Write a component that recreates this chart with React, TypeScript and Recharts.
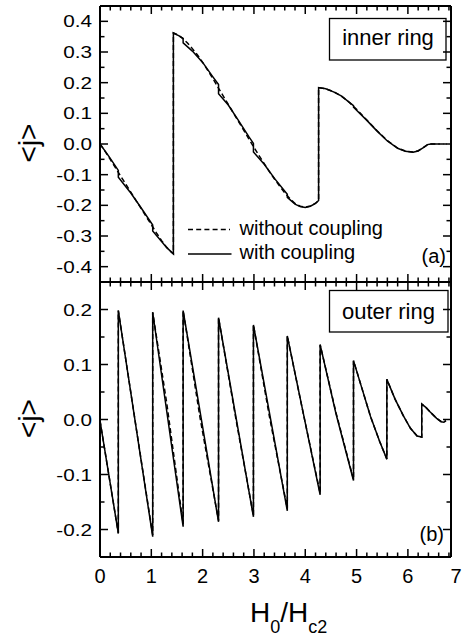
import React from 'react';
import { LineChart, Line, XAxis, YAxis } from 'recharts';

type Pt = [number, number];

// inner ring <j> vs H0/Hc2
const innerWithout: Pt[] = [
  [0, 0], [0.1, -0.024], [0.2, -0.05], [0.3, -0.077], [0.4, -0.104], [0.5, -0.13], [0.6, -0.157],
  [0.7, -0.184], [0.8, -0.21], [0.9, -0.237], [1.0, -0.263], [1.1, -0.29], [1.2, -0.315], [1.3, -0.337],
  [1.38, -0.351], [1.43, -0.358],
  [1.43, 0.362], [1.5, 0.357], [1.6, 0.346], [1.7, 0.33], [1.8, 0.311], [1.9, 0.29], [2.0, 0.266],
  [2.1, 0.24], [2.2, 0.213], [2.3, 0.185], [2.4, 0.157], [2.5, 0.129], [2.6, 0.101], [2.7, 0.073],
  [2.8, 0.045], [2.9, 0.017], [3.0, -0.011], [3.1, -0.038], [3.2, -0.064], [3.3, -0.09], [3.4, -0.114],
  [3.5, -0.137], [3.6, -0.159], [3.7, -0.178], [3.8, -0.194], [3.9, -0.203], [4.0, -0.206], [4.1, -0.202],
  [4.2, -0.193], [4.26, -0.184],
  [4.26, 0.184], [4.4, 0.18], [4.55, 0.171], [4.7, 0.157], [4.85, 0.137], [5.0, 0.113], [5.2, 0.078],
  [5.4, 0.043], [5.6, 0.011], [5.8, -0.013], [5.95, -0.023], [6.1, -0.026], [6.2, -0.022], [6.3, -0.012],
  [6.38, -0.003], [6.45, 0], [6.76, 0],
];

const innerWith: Pt[] = [
  [0, 0], [0.18, -0.042], [0.357, -0.086], [0.357, -0.108], [0.6, -0.16], [0.8, -0.208], [1.027, -0.264],
  [1.027, -0.284], [1.2, -0.318], [1.3, -0.338], [1.43, -0.358],
  [1.43, 0.362], [1.55, 0.352], [1.62, 0.344], [1.62, 0.33], [1.8, 0.303], [2.0, 0.266], [2.2, 0.219],
  [2.31, 0.194], [2.31, 0.164], [2.5, 0.127], [2.7, 0.076], [2.9, 0.024], [2.99, 0.002], [2.99, -0.026],
  [3.2, -0.066], [3.4, -0.112], [3.65, -0.164], [3.65, -0.174], [3.8, -0.196], [3.9, -0.204], [4.0, -0.207],
  [4.1, -0.203], [4.2, -0.194], [4.26, -0.184],
  [4.26, 0.184], [4.4, 0.18], [4.55, 0.17], [4.7, 0.157], [4.94, 0.125], [4.94, 0.12], [5.2, 0.077],
  [5.4, 0.042], [5.6, 0.01], [5.8, -0.014], [5.95, -0.024], [6.1, -0.027], [6.2, -0.023], [6.3, -0.012],
  [6.38, -0.002], [6.45, 0], [6.62, 0],
];

// outer ring <j> vs H0/Hc2
const outerWithout: Pt[] = [
  [0, -0.002], [0.357, -0.207], [0.357, 0.198], [0.7, -0.012], [1.027, -0.21], [1.027, 0.195], [1.3, 0.03],
  [1.62, -0.19], [1.62, 0.198], [1.95, 0.003], [2.31, -0.184], [2.31, 0.185], [2.65, 0.0], [2.99, -0.175],
  [2.99, 0.172], [3.3, 0.006], [3.65, -0.162], [3.65, 0.152], [3.95, 0.016], [4.29, -0.134], [4.29, 0.136],
  [4.6, 0.012], [4.94, -0.109], [4.94, 0.107], [5.1, 0.058], [5.27, 0.006], [5.45, -0.04], [5.59, -0.072],
  [5.59, 0.073], [5.75, 0.037], [5.91, 0.007], [6.05, -0.016], [6.18, -0.03], [6.27, -0.032], [6.27, 0.028],
  [6.35, 0.022], [6.43, 0.014], [6.56, 0.002], [6.65, -0.004], [6.7, -0.005], [6.74, -0.002],
];

const outerWith: Pt[] = [
  [0, -0.002], [0.357, -0.207], [0.357, 0.198], [1.027, -0.213], [1.027, 0.195], [1.62, -0.195],
  [1.62, 0.198], [2.31, -0.186], [2.31, 0.185], [2.99, -0.177], [2.99, 0.172], [3.65, -0.166],
  [3.65, 0.152], [4.29, -0.137], [4.29, 0.136], [4.6, 0.01], [4.94, -0.111], [4.94, 0.107], [5.1, 0.058],
  [5.27, 0.006], [5.45, -0.04], [5.59, -0.072], [5.59, 0.073], [5.75, 0.037], [5.91, 0.007], [6.05, -0.016],
  [6.18, -0.03], [6.27, -0.032], [6.27, 0.028], [6.35, 0.022], [6.43, 0.014], [6.56, 0.002], [6.65, -0.004],
  [6.7, -0.005], [6.74, -0.002],
];

const xTicks = [
  0, 0.2, 0.4, 0.6, 0.8, 1, 1.2, 1.4, 1.6, 1.8, 2, 2.2, 2.4, 2.6, 2.8, 3, 3.2, 3.4, 3.6, 3.8,
  4, 4.2, 4.4, 4.6, 4.8, 5, 5.2, 5.4, 5.6, 5.8, 6, 6.2, 6.4, 6.6, 6.8, 7,
];
const innerTicks = [-0.4, -0.35, -0.3, -0.25, -0.2, -0.15, -0.1, -0.05, 0, 0.05, 0.1, 0.15, 0.2, 0.25, 0.3, 0.35, 0.4];
const outerTicks = [-0.2, -0.15, -0.1, -0.05, 0, 0.05, 0.1, 0.15, 0.2];

const FONT = '"Liberation Sans", Arial, Helvetica, sans-serif';
const MAJOR = 8;
const MINOR = 4.5;
const X_MAX = 6.84;

const toRows = (pts: Pt[]) => pts.map(([x, y]) => ({ x, y }));
const isMajor = (v: number, step: number) => Math.abs(v / step - Math.round(v / step)) < 1e-6;

const LeftTick = ({ x, y, payload }: any) => {
  const major = isMajor(payload.value, 0.1);
  return (
    <g>
      <line x1={x} x2={x + (major ? MAJOR : MINOR)} y1={y} y2={y} stroke="#000" strokeWidth={1.5} />
      {major && (
        <text
          transform={`translate(${x - 8},${y + 6}) scale(1.22,1)`}
          textAnchor="end"
          fontSize={17}
          fontFamily={FONT}
          fill="#000"
        >
          {payload.value.toFixed(1)}
        </text>
      )}
    </g>
  );
};

const RightTick = ({ x, y, payload }: any) => {
  const major = isMajor(payload.value, 0.1);
  return <line x1={x} x2={x - (major ? MAJOR : MINOR)} y1={y} y2={y} stroke="#000" strokeWidth={1.5} />;
};

const TopTick = ({ x, y, payload }: any) => {
  if (payload.value > X_MAX) return <g />;
  const major = isMajor(payload.value, 1);
  return <line x1={x} x2={x} y1={y} y2={y + (major ? MAJOR : MINOR)} stroke="#000" strokeWidth={1.5} />;
};

const BottomTick = ({ x, y, payload, labels }: any) => {
  const major = isMajor(payload.value, 1);
  // the last label sits past the frame; keep it inside the page
  const lx = payload.value > X_MAX ? Math.min(x, 456) : x;
  return (
    <g>
      {payload.value <= X_MAX && (
        <line x1={x} x2={x} y1={y} y2={y - (major ? MAJOR : MINOR)} stroke="#000" strokeWidth={1.5} />
      )}
      {labels && major && (
        <text x={lx} y={y + 26} textAnchor="middle" fontSize={20} fontFamily={FONT} fill="#000">
          {payload.value}
        </text>
      )}
    </g>
  );
};

const frame = { stroke: '#000', strokeWidth: 2 };

interface PanelProps {
  height: number;
  margin: { top: number; right: number; bottom: number; left: number };
  domain: [number, number];
  ticks: number[];
  withoutPts: Pt[];
  withPts: Pt[];
  labels: boolean;
}

const Panel = ({ height, margin, domain, ticks, withoutPts, withPts, labels }: PanelProps) => (
  <LineChart width={462} height={height} margin={margin} style={{ overflow: 'visible' }}>
    <XAxis
      xAxisId="b"
      type="number"
      dataKey="x"
      domain={[0, X_MAX]}
      ticks={xTicks}
      interval={0}
      allowDataOverflow
      height={1}
      tickSize={0}
      tickMargin={0}
      tickLine={false}
      axisLine={frame}
      tick={(p: any) => <BottomTick {...p} labels={labels} />}
    />
    <XAxis
      xAxisId="t"
      orientation="top"
      type="number"
      dataKey="x"
      domain={[0, X_MAX]}
      ticks={xTicks}
      interval={0}
      allowDataOverflow
      height={1}
      tickSize={0}
      tickMargin={0}
      tickLine={false}
      axisLine={frame}
      tick={(p: any) => <TopTick {...p} />}
    />
    <YAxis
      yAxisId="l"
      type="number"
      domain={domain}
      ticks={ticks}
      interval={0}
      allowDataOverflow
      width={100}
      tickSize={0}
      tickMargin={0}
      tickLine={false}
      axisLine={frame}
      tick={(p: any) => <LeftTick {...p} />}
    />
    <YAxis
      yAxisId="r"
      orientation="right"
      type="number"
      domain={domain}
      ticks={ticks}
      interval={0}
      allowDataOverflow
      width={1}
      tickSize={0}
      tickMargin={0}
      tickLine={false}
      axisLine={frame}
      tick={(p: any) => <RightTick {...p} />}
    />
    <Line
      xAxisId="b"
      yAxisId="l"
      data={toRows(withoutPts)}
      dataKey="y"
      type="linear"
      stroke="#000"
      strokeWidth={1.5}
      strokeDasharray="5 3"
      dot={false}
      activeDot={false}
      isAnimationActive={false}
    />
    <Line
      xAxisId="b"
      yAxisId="l"
      data={toRows(withPts)}
      dataKey="y"
      type="linear"
      stroke="#000"
      strokeWidth={1.5}
      dot={false}
      activeDot={false}
      isAnimationActive={false}
    />
  </LineChart>
);

const JLabel = ({ cy }: { cy: number }) => (
  <text
    transform={`translate(37.5,${cy}) rotate(-90)`}
    textAnchor="middle"
    fontSize={28}
    fontFamily={FONT}
    fill="#000"
  >
    {'<j>'}
  </text>
);

export default function App() {
  return (
    <div style={{ position: 'absolute', left: 0, top: 0, width: 462, height: 639, background: '#fff', fontFamily: FONT }}>
      <div style={{ position: 'absolute', left: 0, top: 0 }}>
        <Panel
          height={292}
          margin={{ top: 5, right: 10, bottom: 9, left: 0 }}
          domain={[-0.45, 0.45]}
          ticks={innerTicks}
          withoutPts={innerWithout}
          withPts={innerWith}
          labels={false}
        />
      </div>
      <div style={{ position: 'absolute', left: 0, top: 272 }}>
        <Panel
          height={367}
          margin={{ top: 9, right: 10, bottom: 81, left: 0 }}
          domain={[-0.25, 0.25]}
          ticks={outerTicks}
          withoutPts={outerWithout}
          withPts={outerWith}
          labels={true}
        />
      </div>
      <svg width={462} height={639} style={{ position: 'absolute', left: 0, top: 0, pointerEvents: 'none' }}>
        <g fontFamily={FONT} fill="#000">
          <rect x={329.5} y={18.5} width={116.5} height={41.5} fill="none" stroke="#000" strokeWidth={1.3} />
          <text x={388} y={45} textAnchor="middle" fontSize={22}>inner ring</text>
          <rect x={329.5} y={290.5} width={118.5} height={41.5} fill="none" stroke="#000" strokeWidth={1.3} />
          <text x={388.5} y={318.5} textAnchor="middle" fontSize={22}>outer ring</text>

          <line x1={188} x2={230} y1={229.5} y2={229.5} stroke="#000" strokeWidth={1.4} strokeDasharray="5 3.2" />
          <text x={239.5} y={234.8} fontSize={20}>without coupling</text>
          <line x1={188} x2={231.5} y1={254} y2={254} stroke="#000" strokeWidth={1.4} />
          <text x={239.5} y={259.3} fontSize={20}>with coupling</text>

          <text x={446} y={262.5} textAnchor="end" fontSize={20}>(a)</text>
          <text x={444} y={541} textAnchor="end" fontSize={20}>(b)</text>

          <JLabel cy={143} />
          <JLabel cy={418.5} />

          <text x={250} y={621.5} fontSize={28}>
            H<tspan fontSize={18} dy={11.5}>0</tspan>
            <tspan dy={-11.5}>/H</tspan>
            <tspan fontSize={18} dy={11.5}>c2</tspan>
          </text>
        </g>
      </svg>
    </div>
  );
}
